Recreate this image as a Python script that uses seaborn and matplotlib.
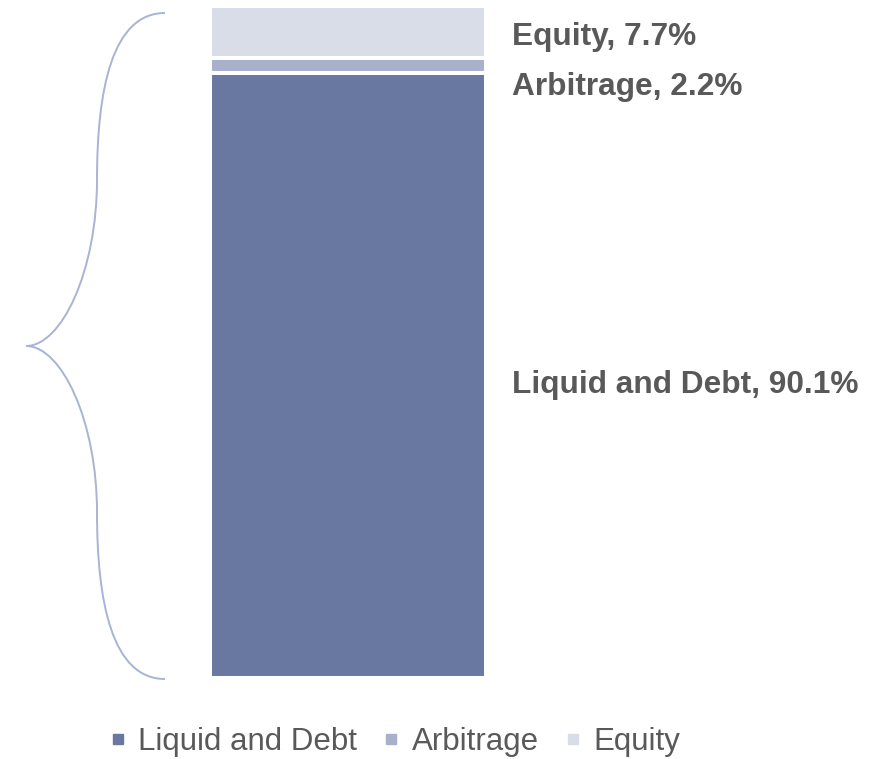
import numpy as np
import pandas as pd
import seaborn as sns
import matplotlib.pyplot as plt
from matplotlib.path import Path
from matplotlib.patches import PathPatch
from matplotlib.lines import Line2D

# data (stacked bottom -> top)
segments = ['Liquid and Debt', 'Arbitrage', 'Equity']
shares = [90.1, 2.2, 7.7]
colors = ['#6878a0', '#a8b0cb', '#d9dde8']

text_grey = '#595959'
brace_color = '#a9b3d3'

sns.set_theme(style='white')
plt.rcParams['font.family'] = ['Liberation Sans', 'DejaVu Sans']

W, H = 888, 759
fig = plt.figure(figsize=(W / 100, H / 100), dpi=100)
ax = fig.add_axes([0, 0, 1, 1])

# overdraw cumulative bars, tallest first, so the stack shows
tops = np.cumsum(shares)
for i in reversed(range(len(segments))):
    df = pd.DataFrame({'cat': [''], 'val': [tops[i]]})
    sns.barplot(data=df, x='cat', y='val', color=colors[i], width=0.8,
                edgecolor='white', linewidth=2.9, saturation=1, ax=ax)

# map data units onto the figure pixels
px_x, cx = 345.0, 348.0
px_y, y0 = 6.72, 81.0
ax.set_xlim(-cx / px_x, (W - cx) / px_x)
ax.set_ylim(-y0 / px_y, (H - y0) / px_y)
ax.axis('off')

# labels to the right of the bar
label_y = [43.6, 87.9, 95.4]
for name, val, ly in zip(segments, shares, label_y):
    ax.text(0.4754, ly, f'{name}, {val}%', fontsize=22.8, fontweight='bold',
            color=text_grey, ha='left', va='center', clip_on=False)

# curly brace on the left (figure pixel coords, y from top)
def fy(y):
    return 1 - y / H

pts = [(165, 13), (112, 13), (97, 90), (97, 180),
       (97, 270), (62, 346), (26, 346),
       (62, 346), (97, 422), (97, 512),
       (97, 602), (112, 679), (165, 679)]
codes = [Path.MOVETO] + [Path.CURVE4] * 12
verts = [(x / W, fy(y)) for x, y in pts]
brace = PathPatch(Path(verts, codes), facecolor='none', edgecolor=brace_color,
                  lw=1.4, transform=fig.transFigure)
fig.patches.append(brace)

# legend
handles = [Line2D([], [], marker='s', linestyle='none', markersize=7,
                  markerfacecolor=c, markeredgecolor=c) for c in colors]
fig.legend(handles, segments, loc='center', bbox_to_anchor=(395 / W, fy(742)),
           ncol=3, frameon=False, fontsize=22.5, labelcolor=text_grey,
           handlelength=0.5, handletextpad=0.4, columnspacing=0.85)

fig.savefig('out.png', dpi=100)
